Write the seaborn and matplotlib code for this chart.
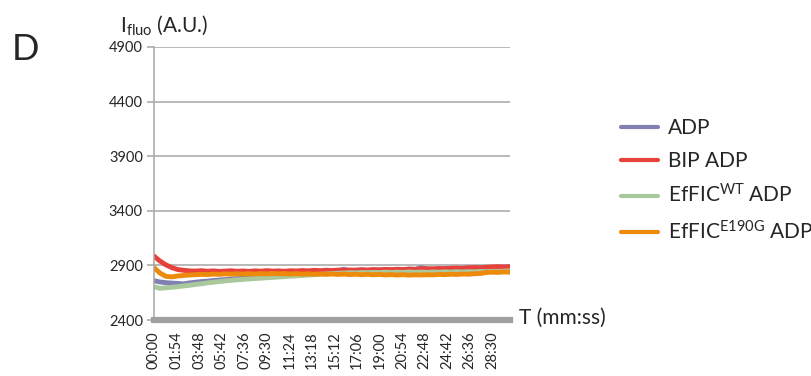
import numpy as np
import pandas as pd
import matplotlib
matplotlib.use('Agg')
import matplotlib.pyplot as plt
import seaborn as sns

# --- du lieu doc tu hinh ---
t_sec = list(range(0, 1801, 30))

adp = [2760, 2748, 2742, 2738, 2735, 2731, 2740, 2746, 2752, 2756, 2762, 2766, 2770, 2774, 2779,
       2783, 2788, 2791, 2797, 2801, 2806, 2810, 2815, 2818, 2824, 2828, 2833, 2836, 2841, 2843,
       2848, 2852, 2865, 2850, 2856, 2858, 2855, 2860, 2858, 2862, 2860, 2864, 2861, 2866, 2863,
       2880, 2866, 2868, 2866, 2870, 2872, 2870, 2874, 2876, 2873, 2878, 2880, 2878, 2882, 2884, 2886]
bip_adp = [2985, 2940, 2905, 2880, 2862, 2855, 2850, 2848, 2852, 2846, 2850, 2845, 2848, 2851, 2846,
           2849, 2845, 2850, 2847, 2852, 2848, 2850, 2846, 2851, 2849, 2853, 2850, 2855, 2852, 2856,
           2853, 2857, 2855, 2858, 2856, 2860, 2857, 2861, 2859, 2863, 2860, 2864, 2862, 2866, 2864,
           2868, 2870, 2867, 2872, 2870, 2874, 2876, 2873, 2878, 2880, 2878, 2883, 2886, 2888, 2885, 2888]
wt_adp = [2705, 2690, 2695, 2700, 2705, 2712, 2718, 2726, 2732, 2740, 2746, 2752, 2758, 2763, 2768,
          2772, 2776, 2780, 2783, 2787, 2790, 2794, 2797, 2801, 2804, 2808, 2811, 2815, 2818, 2822,
          2825, 2828, 2830, 2833, 2831, 2835, 2833, 2836, 2834, 2838, 2835, 2838, 2836, 2840, 2837,
          2839, 2836, 2840, 2838, 2841, 2839, 2842, 2840, 2843, 2841, 2845, 2843, 2846, 2845, 2848, 2850]
e190g_adp = [2880, 2830, 2800, 2795, 2803, 2808, 2812, 2815, 2818, 2816, 2820, 2818, 2822, 2819, 2823,
             2820, 2824, 2821, 2825, 2822, 2826, 2823, 2825, 2821, 2824, 2820, 2823, 2819, 2822, 2818,
             2821, 2817, 2820, 2816, 2819, 2815, 2818, 2814, 2817, 2813, 2816, 2812, 2815, 2811, 2814,
             2812, 2815, 2813, 2817, 2815, 2819, 2817, 2821, 2819, 2824, 2826, 2835, 2838, 2836, 2840, 2838]

series_names = ['ADP', 'BIP ADP', r'EfFIC$^{\mathrm{WT}}$ ADP', r'EfFIC$^{\mathrm{E190G}}$ ADP']
series_colors = ['#8080b2', '#e8413c', '#a9c89b', '#ee8a0b']
tick_labels = ['00:00', '01:54', '03:48', '05:42', '07:36', '09:30', '11:24', '13:18',
               '15:12', '17:06', '19:00', '20:54', '22:48', '24:42', '26:36', '28:30']
tick_step = 114

df = pd.concat([
    pd.DataFrame({'t': t_sec, 'I': vals, 'series': name})
    for name, vals in zip(series_names, [adp, bip_adp, wt_adp, e190g_adp])
])

sns.set_style('white')
plt.rcParams['font.family'] = ['Lato', 'DejaVu Sans']
plt.rcParams['mathtext.fontset'] = 'custom'
plt.rcParams['mathtext.rm'] = 'Lato'
plt.rcParams['mathtext.it'] = 'Lato'

fig = plt.figure(figsize=(8.12, 3.76), dpi=100)
ax = fig.add_axes([154 / 812, 1 - 320 / 376, (510 - 154) / 812, (320 - 47) / 376])

grid_c = '#a6a6a6'
for yv in [2900, 3400, 3900, 4400, 4900]:
    ax.axhline(yv, color=grid_c, lw=1.1, zorder=0)

sns.lineplot(data=df, x='t', y='I', hue='series', palette=series_colors,
             lw=3.5, ax=ax, legend=True, sort=False)

ax.set_xlim(0, 1800)
ax.set_ylim(2400, 4900)
ax.set_yticks([2400, 2900, 3400, 3900, 4400, 4900])
ax.set_xticks([i * tick_step for i in range(len(tick_labels))])
ax.set_xticklabels(tick_labels, rotation=90)
ax.tick_params(axis='x', length=0, pad=8, labelsize=10.5)
ax.tick_params(axis='y', length=5, width=1.1, color=grid_c, pad=3, labelsize=10.5, left=True)
ax.set_xlabel('')
ax.set_ylabel('')

for s in ['top', 'right']:
    ax.spines[s].set_visible(False)
ax.spines['left'].set_color(grid_c)
ax.spines['left'].set_linewidth(1.1)
ax.spines['bottom'].set_color('#a0a0a0')
ax.spines['bottom'].set_linewidth(4.5)
ax.spines['bottom'].set_zorder(5)

handles, labels = ax.get_legend_handles_labels()
ax.legend_.remove()
for h in handles:
    h.set_linewidth(3)
fig.legend(handles, labels, loc='center left', bbox_to_anchor=(0.742, 0.52),
           frameon=False, fontsize=15, handlelength=1.75, handletextpad=0.5,
           labelspacing=0.62)

fig.text(120 / 812, 1 - 25 / 376, r'I$_{\mathrm{fluo}}$ (A.U.)', fontsize=15, va='center')
fig.text(12 / 812, 1 - 50 / 376, 'D', fontsize=26, va='center')
fig.text(519 / 812, 1 - 318 / 376, 'T (mm:ss)', fontsize=15, va='center')

fig.savefig('out.png', dpi=100)
